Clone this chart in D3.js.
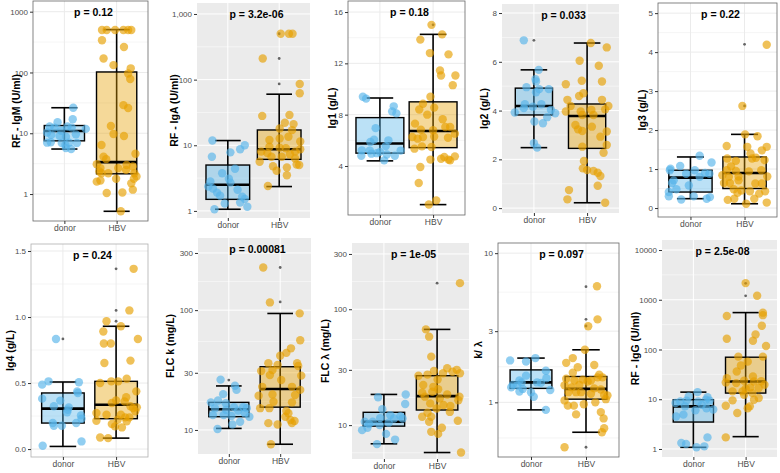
<!DOCTYPE html>
<html>
<head>
<meta charset="utf-8">
<script src="https://cdn.jsdelivr.net/npm/d3@7.9.0/dist/d3.min.js"></script>
<style>
  body { margin: 0; background: #fff; }
  svg { display: block; font-family: "Liberation Sans", Arial, sans-serif; }
</style>
</head>
<body>
<svg id="chart" width="780" height="473"></svg>
<script>
const groups = ["donor", "HBV"];

// each point is [value, horizontal jitter in category units]
// box = [lower whisker, q1, median, q3, upper whisker], per group

// RF - IgM
const igmTicks = [1, 10, 100, 1000];
const igmTickLabels = ["1", "10", "100", "1000"];
const igmDonor = [[26.3,0.17],[17,0.16],[15.2,-0.13],[12.9,-0.28],[12.4,-0.19],[12.9,0.06],[12.4,0.14],[11.8,0.41],[10.3,-0.33],[9.4,-0.25],[9.0,-0.09],[8.8,0.03],[9.6,0.22],[7.1,-0.26],[7.0,-0.33],[6.9,-0.05],[6.4,0.02],[7.0,0.09],[6.9,0.24],[5.7,0.03],[5.5,0.13],[11.0,-0.06]];
const igmHbv = [[500,-0.28],[500,-0.19],[500,-0.03],[500,0.13],[500,0.22],[500,0.28],[340,-0.28],[170,-0.25],[132,-0.06],[263,0.14],[117,0.27],[96,0.22],[78,0.26],[29,0.13],[26,0.22],[13.2,-0.11],[9.7,-0.06],[9.0,0.14],[6.4,-0.29],[4.1,-0.25],[3.75,-0.2],[4.6,0.36],[3.1,-0.38],[2.67,-0.31],[2.35,-0.33],[2.2,-0.29],[2.2,-0.16],[2.67,0.03],[3.0,0.19],[2.5,0.18],[2.85,0.31],[2.2,0.34],[1.95,0.38],[1.78,0.33],[1.5,0.28],[1.6,-0.38],[1.67,-0.31],[1.78,-0.01],[1.04,-0.19],[1.06,0.11],[1.18,0.31],[0.52,0.08]];
const igmBox = [[5.5,7.5,10.9,13.4,26.3],[0.52,2.15,3.35,102,507]];
const igmOut = [[],[]];

// RF - IgA
const igaTicks = [1, 10, 100, 1000];
const igaTickLabels = ["1", "10", "100", "1,000"];
const igaDonor = [[11.8,-0.3],[10,0.33],[8.7,0.24],[7.8,0.05],[6.7,-0.31],[4.4,0.14],[3.75,-0.11],[3.1,0.02],[2.8,-0.34],[2.7,0.05],[2.2,-0.29],[1.9,-0.21],[1.7,-0.15],[1.65,0.28],[1.52,0.33],[1.3,-0.06],[1.34,0.24],[1.16,0.38],[1.06,-0.26],[2.35,-0.38],[2.1,0.19]];
const igaHbv = [[500,0.03],[500,0.19],[500,0.26],[210,-0.32],[86,0.4],[62,0.4],[28,-0.33],[29,0.2],[22,0.11],[21,0.28],[18,0.01],[17,0.25],[13.5,0.18],[12.7,0.01],[12,-0.19],[11.4,0.41],[9.5,-0.19],[9.2,0.01],[9,0.13],[8,-0.35],[7.6,-0.23],[8,0.31],[7.3,0.21],[6.7,-0.15],[8.7,0.41],[5.6,-0.38],[4.8,-0.12],[4.6,0.15],[5.1,0.34],[5,0.39],[4.1,-0.05],[3.5,0.15],[2.4,-0.22],[6.3,0.31],[6.7,0.05]];
const igaBox = [[1.06,1.5,2.5,5.0,11.8],[2.35,6.1,8.7,17.1,60]];
const igaOut = [[],[500,210,86]];

// Ig1
const ig1Ticks = [4, 8, 12, 16];
const ig1TickLabels = ["4", "8", "12", "16"];
const ig1Donor = [[9.4,-0.32],[9.25,-0.26],[8.65,0.26],[8.1,0.31],[8.25,0.23],[6.95,-0.08],[6.05,-0.11],[5.87,-0.18],[6.0,0.16],[5.55,0.11],[5.22,-0.34],[5.2,-0.19],[5.2,0.39],[5.1,0],[4.96,-0.16],[4.9,0.13],[4.8,-0.35],[4.8,0.28],[4.44,0.08],[5.0,-0.06]];
const ig1Hbv = [[15.0,-0.03],[14.26,0.17],[13.85,-0.24],[12.8,-0.06],[12.7,0.29],[11.45,0.13],[11.05,0.15],[11.05,0.42],[10.3,0.37],[9.4,-0.05],[8.85,-0.19],[8.55,0.02],[8.4,-0.26],[8.0,-0.11],[7.3,-0.34],[7.64,0.18],[7.04,0.23],[7.04,0.32],[6.83,-0.23],[6.78,0],[6.26,-0.39],[6.26,-0.19],[6.3,0.02],[6.13,-0.29],[6.52,0.41],[6.2,0.28],[5.48,-0.03],[5.35,-0.35],[5.53,-0.21],[4.57,0.15],[4.5,-0.05],[4.7,0.21],[4.5,0.29],[4.75,0.41],[4.44,0.32],[3.92,-0.24],[2.68,-0.27],[1.32,0.06],[1.0,-0.08]];
const ig1Box = [[4.4,5.0,5.75,7.77,9.3],[0.99,5.43,6.73,9.0,14.26]];
const ig1Out = [[],[15.0]];

// Ig2
const ig2Ticks = [0, 2, 4, 6, 8];
const ig2TickLabels = ["0", "2", "4", "6", "8"];
const ig2Donor = [[6.88,-0.19],[5.67,0.09],[5.29,0.03],[5.19,0.04],[4.96,-0.14],[4.88,0.1],[4.88,0.28],[4.75,0.04],[4.26,-0.17],[4.26,0.14],[4.16,-0.02],[4.1,-0.19],[4.03,0.32],[3.89,0.4],[3.92,-0.36],[3.73,0.25],[3.55,0.01],[3.48,0.17],[2.66,0],[2.48,0.06]];
const ig2Hbv = [[6.77,0.07],[6.59,0.37],[6.04,-0.14],[5.84,0.22],[5.22,-0.1],[5.19,0.28],[5.08,-0.4],[4.71,-0.07],[4.6,-0.15],[4.44,-0.37],[4.44,0.28],[4.19,-0.31],[4.19,0.4],[3.96,-0.4],[3.96,-0.12],[4.03,0.08],[4.05,0.34],[3.82,-0.09],[3.82,0.12],[3.41,-0.22],[3.23,-0.17],[3.16,-0.09],[3.34,0.09],[3.14,0.37],[2.93,0.25],[2.52,-0.09],[2.59,0.37],[2.27,0.31],[1.93,-0.06],[1.63,-0.08],[1.56,0],[1.52,0.12],[1.45,0.2],[1.32,0.25],[0.92,0.2],[0.74,-0.34],[0.36,-0.37],[0.22,0.34]];
const ig2Box = [[2.48,3.82,4.19,4.92,5.67],[0.22,2.45,3.78,4.27,6.77]];
const ig2Out = [[6.88],[]];

// Ig3
const ig3Ticks = [0, 1, 2, 3, 4, 5];
const ig3TickLabels = ["0", "1", "2", "3", "4", "5"];
const ig3Donor = [[1.34,0.17],[1.17,0.39],[1.08,-0.19],[1.01,-0.37],[0.97,-0.38],[0.97,0.08],[0.9,0.27],[0.88,0.35],[0.71,-0.31],[0.64,-0.34],[0.58,-0.03],[0.48,-0.26],[0.41,-0.4],[0.3,-0.4],[0.22,-0.17],[0.3,0.06],[0.24,0.3],[0.28,0.36],[0.8,0.17],[0.88,-0.08]];
const ig3Hbv = [[4.19,0.41],[2.62,-0.04],[1.89,0.01],[1.84,0.24],[1.59,-0.33],[1.57,0.05],[1.57,0.41],[1.4,0.11],[1.48,0.32],[1.27,-0.32],[1.27,0.14],[1.29,0.21],[1.21,-0.16],[1.23,0.37],[1.07,-0.25],[0.97,-0.33],[0.97,0.31],[0.95,-0.16],[0.94,0.08],[0.8,-0.29],[0.81,0.42],[0.71,-0.11],[0.64,-0.38],[0.64,-0.27],[0.63,0.2],[0.63,0.32],[0.48,-0.2],[0.45,-0.06],[0.43,0.1],[0.43,0.38],[0.39,-0.13],[0.37,0.27],[0.21,-0.31],[0.24,-0.19],[0.24,0.18],[0.11,0.03],[0.14,0.41],[0.84,-0.41],[0.81,-0.11]];
const ig3Box = [[0.24,0.41,0.78,0.97,1.31],[0.11,0.5,0.9,1.31,1.89]];
const ig3Out = [[],[4.2,2.62]];

// Ig4
const ig4Ticks = [0, 0.5, 1, 1.5];
const ig4TickLabels = ["0.0", "0.5", "1.0", "1.5"];
const ig4Donor = [[0.834,-0.13],[0.513,-0.27],[0.506,0.3],[0.488,-0.39],[0.437,0.27],[0.425,0.28],[0.382,-0.39],[0.367,-0.05],[0.324,-0.17],[0.316,0.11],[0.298,0.09],[0.278,0.08],[0.255,0.34],[0.23,0.35],[0.197,-0.19],[0.177,-0.17],[0.177,-0.02],[0.197,0.25],[0.058,0.35],[0.025,-0.38]];
const ig4Hbv = [[1.365,0.33],[1.05,0.25],[0.968,-0.18],[0.93,0.09],[0.89,-0.24],[0.8,-0.23],[0.8,-0.1],[0.834,0.41],[0.67,0.27],[0.652,-0.22],[0.513,-0.09],[0.5,-0.3],[0.533,0.2],[0.437,0.38],[0.513,0.04],[0.392,0.19],[0.36,0.16],[0.369,0],[0.349,-0.08],[0.324,0.27],[0.311,0.32],[0.286,0.36],[0.273,-0.37],[0.26,-0.18],[0.26,0.09],[0.24,0.17],[0.215,-0.37],[0.222,0.03],[0.21,0.2],[0.19,-0.08],[0.172,-0.02],[0.164,0.11],[0.088,-0.3],[0.083,-0.15],[0.24,0.25],[0.316,0.39]];
const ig4Box = [[0.02,0.197,0.306,0.425,0.508],[0.083,0.23,0.336,0.513,0.93]];
const ig4Out = [[0.834],[1.365,1.05,0.968]];

// FLC k
const flckTicks = [10, 30, 100, 300];
const flckTickLabels = ["10", "30", "100", "300"];
const flckDonor = [[26.3,-0.16],[23.4,0.12],[21.6,0.15],[19.9,-0.11],[17.6,-0.21],[17.0,-0.35],[16.7,-0.06],[15.2,-0.27],[15.5,0.1],[15.5,0.28],[15.2,0.35],[14.7,-0.05],[14.5,0.18],[13.3,-0.31],[13.3,-0.1],[13.1,0.05],[13.8,0.31],[12.9,0.4],[11.7,0.22],[11.1,0.07],[10.2,-0.22]];
const flckHbv = [[227,-0.33],[116,-0.2],[94,0.38],[56,0.39],[48,0.21],[44,0.12],[41.6,0],[36,-0.23],[34.8,-0.05],[36,0.33],[34.2,0.35],[31,-0.37],[31.6,-0.15],[28.7,-0.2],[28.4,0.41],[26.1,0.02],[22.9,-0.35],[22.9,0.23],[21.6,0.39],[19.3,-0.42],[19.8,-0.15],[19.6,0.29],[17.2,-0.13],[17.0,0.23],[15.2,-0.39],[15.2,-0.21],[14.4,0.12],[13.8,0.16],[12.9,0.1],[12.1,0.2],[11.9,0.28],[11.4,0.23],[11.4,-0.23],[11.1,-0.05],[7.6,-0.18]];
const flckBox = [[10.3,12.9,14.9,17.0,23.3],[7.6,15.5,22.0,33.7,93.8]];
const flckOut = [[26.1],[227,117]];

// FLC λ
const flclTicks = [10, 30, 100, 300];
const flclTickLabels = ["10", "30", "100", "300"];
const flclDonor = [[18.4,0.41],[17.4,-0.11],[15.2,0.4],[13.7,-0.03],[11.96,0.31],[12.2,0.12],[11.4,0.19],[11.5,-0.07],[10.7,-0.36],[10.2,-0.28],[10.7,-0.21],[10.0,-0.08],[9.5,-0.31],[9.05,-0.41],[8.4,0.04],[7.5,0.21],[6.85,-0.13],[11.4,0.35],[10.5,0.09]];
const flclHbv = [[168,0.43],[67,-0.21],[58,-0.15],[39,-0.11],[29.3,-0.06],[31,0.19],[30,0.37],[26.7,-0.35],[27.3,-0.18],[28,0.11],[28.9,0.29],[28,0.43],[24.8,0.01],[22.2,-0.26],[21.4,-0.07],[20.4,0.02],[19,-0.28],[19.4,-0.09],[18.4,0.19],[17.6,0.42],[16.4,0.4],[17.6,-0.23],[17,0.05],[15.4,-0.13],[14.9,0.12],[14.6,0.25],[13.9,-0.01],[13.0,0.24],[12.8,-0.18],[11.8,-0.28],[11.8,-0.11],[10.7,-0.15],[10.9,0.39],[9.5,0.09],[8.75,-0.11],[8.4,0.02],[5.8,0.45]];
const flclBox = [[6.9,9.8,10.7,12.9,18.4],[5.8,13.5,17.8,26.7,67]];
const flclOut = [[],[168]];

// k / λ
const ratioTicks = [1, 3, 10];
const ratioTickLabels = ["1", "3", "10"];
const ratioDonor = [[1.98,0.08],[1.91,-0.38],[1.88,-0.09],[1.63,0.27],[1.51,-0.09],[1.45,0.28],[1.40,-0.21],[1.36,-0.17],[1.36,0.11],[1.35,0.18],[1.31,-0.33],[1.30,-0.25],[1.26,-0.36],[1.23,-0.15],[1.21,0.35],[1.18,-0.21],[1.17,0],[1.09,0.05],[0.89,0.27]];
const ratioHbv = [[6.0,0.2],[3.6,0.21],[3.24,0.04],[2.25,-0.02],[1.98,-0.24],[1.84,-0.36],[1.78,0.15],[1.72,-0.15],[1.58,-0.24],[1.53,0.24],[1.47,0.21],[1.47,0.3],[1.44,-0.36],[1.40,-0.21],[1.42,-0.06],[1.40,0.09],[1.31,-0.12],[1.38,0.03],[1.30,-0.39],[1.26,-0.26],[1.24,0.15],[1.22,0.27],[1.17,-0.32],[1.17,-0.18],[1.17,-0.09],[1.14,0.09],[1.12,0.33],[1.11,0.39],[1.05,0.36],[1.03,-0.39],[1.0,0.17],[0.97,-0.04],[0.95,-0.33],[0.95,-0.22],[0.86,0.27],[0.83,-0.18],[0.78,0.32],[0.67,0.33],[0.63,0.29],[0.5,-0.39]];
const ratioBox = [[0.89,1.24,1.36,1.65,1.98],[0.63,1.05,1.23,1.49,2.25]];
const ratioOut = [[],[5.96,3.6,3.25,0.5]];

// RF - IgG
const iggTicks = [1, 10, 100, 1000, 10000];
const iggTickLabels = ["1", "10", "100", "1000", "10000"];
const iggDonor = [[13.9,0.08],[11.4,-0.09],[11.0,0.27],[9.8,0.24],[9.4,0.31],[9.0,-0.25],[9.4,-0.13],[9.0,0.09],[8.4,-0.34],[7.7,0.16],[7.2,-0.16],[6.6,0.25],[6.2,0.38],[6.0,0.04],[4.9,-0.19],[4.5,-0.33],[1.71,0.27],[1.32,-0.23],[1.26,-0.14],[1.08,0.06],[1.13,0.21]];
const iggHbv = [[2160,0],[1200,0.22],[550,0.33],[490,0.33],[470,-0.36],[300,0.31],[200,0.19],[150,0.14],[165,-0.36],[118,0.39],[72,0.33],[72,-0.14],[47.7,-0.09],[57,0.04],[36.2,-0.17],[26.5,-0.36],[28.6,0.14],[22.8,0.16],[23.5,-0.03],[23,0.3],[21.8,-0.38],[21.1,-0.18],[19.6,0.36],[17.3,0.09],[16.2,0],[16.8,0.25],[14.4,-0.25],[14.4,-0.06],[13.3,0.13],[12.3,-0.03],[10.6,0.25],[9.8,0.16],[9.5,-0.25],[7.4,-0.38],[7.2,0.08],[6.6,0.04],[5.3,-0.16],[1.71,-0.38]];
const iggBox = [[1.08,3.48,7.2,9.8,13.9],[1.77,13.3,22.8,70,552]];
const iggOut = [[],[2140,1200]];

// panel layout: rect = [left, top, right, bottom] of the plot area
const panels = [
  { title: "RF - IgM (U/ml)", p: "p = 0.12", log: true, domain: [0.36, 1500], ticks: igmTicks, tickLabels: igmTickLabels,
    points: [igmDonor, igmHbv], box: igmBox, out: igmOut, rect: [33, 1, 148, 221], titleX: 16, theme: "bw", boxW: 0.77 },
  { title: "RF - IgA (U/ml)", p: "p = 3.2e-06", log: true, domain: [0.78, 1470], ticks: igaTicks, tickLabels: igaTickLabels,
    points: [igaDonor, igaHbv], box: igaBox, out: igaOut, rect: [197, 3, 310, 218], titleX: 174, theme: "gray", boxW: 0.85 },
  { title: "Ig1 (g/L)", p: "p = 0.18", log: false, domain: [0.18, 16.86], ticks: ig1Ticks, tickLabels: ig1TickLabels,
    points: [ig1Donor, ig1Hbv], box: ig1Box, out: ig1Out, rect: [348, 1, 465, 215], titleX: 332, theme: "bw", boxW: 0.9 },
  { title: "Ig2 (g/L)", p: "p = 0.033", log: false, domain: [-0.2, 8.37], ticks: ig2Ticks, tickLabels: ig2TickLabels,
    points: [ig2Donor, ig2Hbv], box: ig2Box, out: ig2Out, rect: [502, 4, 619, 213], titleX: 484, theme: "gray", boxW: 0.7 },
  { title: "Ig3 (g/L)", p: "p = 0.22", log: false, domain: [-0.23, 5.26], ticks: ig3Ticks, tickLabels: ig3TickLabels,
    points: [ig3Donor, ig3Hbv], box: ig3Box, out: ig3Out, rect: [658, 3, 777, 217], titleX: 642, theme: "bw", boxW: 0.8 },
  { title: "Ig4 (g/L)", p: "p = 0.24", log: false, domain: [-0.06, 1.553], ticks: ig4Ticks, tickLabels: ig4TickLabels,
    points: [ig4Donor, ig4Hbv], box: ig4Box, out: ig4Out, rect: [31, 244, 148, 457], titleX: 10, theme: "bwLight", boxW: 0.8 },
  { title: "FLC k (mg/L)", p: "p = 0.00081", log: true, domain: [6.3, 400], ticks: flckTicks, tickLabels: flckTickLabels,
    points: [flckDonor, flckHbv], box: flckBox, out: flckOut, rect: [198, 238, 311, 454], titleX: 170, theme: "gray", boxW: 0.78 },
  { title: "FLC λ (mg/L)", p: "p = 1e-05", log: true, domain: [5.1, 373], ticks: flclTicks, tickLabels: flclTickLabels,
    points: [flclDonor, flclHbv], box: flclBox, out: flclOut, rect: [352, 243, 469, 459], titleX: 325, theme: "gray", boxW: 0.78 },
  { title: "k/ λ", p: "p = 0.097", log: true, domain: [0.43, 11.7], ticks: ratioTicks, tickLabels: ratioTickLabels,
    points: [ratioDonor, ratioHbv], box: ratioBox, out: ratioOut, rect: [498, 243, 619, 457], titleX: 478, theme: "bw", boxW: 0.76 },
  { title: "RF - IgG (U/ml)", p: "p = 2.5e-08", log: true, domain: [0.69, 15900], ticks: iggTicks, tickLabels: iggTickLabels,
    points: [iggDonor, iggHbv], box: iggBox, out: iggOut, rect: [662, 240, 777, 457], titleX: 635, theme: "gray", boxW: 0.77 }
];

const pointColors = ["#56B4E9", "#E69F00"];

// minor breaks halfway between major breaks (in transformed space), like ggplot
function minorBreaks(P) {
  const t = P.log ? P.ticks.map(Math.log10) : P.ticks.slice();
  const m = [];
  for (let i = 0; i < t.length - 1; i++) m.push((t[i] + t[i + 1]) / 2);
  m.push(t[0] - (t[1] - t[0]) / 2);
  m.push(t[t.length - 1] + (t[t.length - 1] - t[t.length - 2]) / 2);
  const vals = P.log ? m.map(v => Math.pow(10, v)) : m;
  return vals.filter(v => v > P.domain[0] && v < P.domain[1]);
}

function drawPanel(svg, P) {
  const [x0, y0, x1, y1] = P.rect;
  const w = x1 - x0, h = y1 - y0;
  const g = svg.append("g");

  const x = d3.scaleLinear().domain([0.4, 2.6]).range([x0, x1]);
  const y = (P.log ? d3.scaleLog() : d3.scaleLinear()).domain(P.domain).range([y1, y0]);

  const isGray = P.theme === "gray";
  const gridColor = isGray ? "#ffffff" : "#ebebeb";

  // panel background
  g.append("rect")
    .attr("x", x0).attr("y", y0).attr("width", w).attr("height", h)
    .attr("fill", isGray ? "#ebebeb" : "#ffffff");

  // gridlines
  const grid = g.append("g");
  grid.selectAll(".minor")
    .data(minorBreaks(P))
    .enter().append("line")
    .attr("x1", x0).attr("x2", x1)
    .attr("y1", d => y(d)).attr("y2", d => y(d))
    .attr("stroke", gridColor).attr("stroke-width", 0.5);
  grid.selectAll(".major")
    .data(P.ticks)
    .enter().append("line")
    .attr("x1", x0).attr("x2", x1)
    .attr("y1", d => y(d)).attr("y2", d => y(d))
    .attr("stroke", gridColor).attr("stroke-width", 1);
  grid.selectAll(".vmajor")
    .data([1, 2])
    .enter().append("line")
    .attr("x1", d => x(d)).attr("x2", d => x(d))
    .attr("y1", y0).attr("y2", y1)
    .attr("stroke", gridColor).attr("stroke-width", 1);

  // whisker line through the box
  const boxes = g.append("g");
  P.box.forEach((b, i) => {
    const cx = x(i + 1);
    boxes.append("line")
      .attr("x1", cx).attr("x2", cx)
      .attr("y1", y(b[0])).attr("y2", y(b[4]))
      .attr("stroke", "#000").attr("stroke-width", 1.6);
    [b[0], b[4]].forEach(v => {
      boxes.append("line")
        .attr("x1", x(i + 1 - 0.25)).attr("x2", x(i + 1 + 0.25))
        .attr("y1", y(v)).attr("y2", y(v))
        .attr("stroke", "#000").attr("stroke-width", 1.6);
    });
    boxes.append("rect")
      .attr("x", x(i + 1 - P.boxW / 2))
      .attr("width", x(i + 1 + P.boxW / 2) - x(i + 1 - P.boxW / 2))
      .attr("y", y(b[3]))
      .attr("height", y(b[1]) - y(b[3]))
      .attr("fill", pointColors[i]).attr("fill-opacity", 0.4)
      .attr("stroke", "#000").attr("stroke-width", 1.4);
    boxes.append("line")
      .attr("x1", x(i + 1 - P.boxW / 2)).attr("x2", x(i + 1 + P.boxW / 2))
      .attr("y1", y(b[2])).attr("y2", y(b[2]))
      .attr("stroke", "#000").attr("stroke-width", 2.6);
  });

  // outliers from the boxplot
  P.out.forEach((vals, i) => {
    boxes.selectAll(null)
      .data(vals)
      .enter().append("circle")
      .attr("cx", x(i + 1)).attr("cy", d => y(d))
      .attr("r", 1.4).attr("fill", "#666");
  });

  // jittered points
  P.points.forEach((pts, i) => {
    g.append("g").selectAll("circle")
      .data(pts)
      .enter().append("circle")
      .attr("cx", d => x(i + 1 + d[1]))
      .attr("cy", d => y(d[0]))
      .attr("r", 4.2)
      .attr("fill", pointColors[i])
      .attr("fill-opacity", 0.65);
  });

  // panel border
  if (!isGray) {
    g.append("rect")
      .attr("x", x0).attr("y", y0).attr("width", w).attr("height", h)
      .attr("fill", "none")
      .attr("stroke", P.theme === "bwLight" ? "#b0b0b0" : "#666")
      .attr("stroke-width", 0.8);
  }

  // axes
  const yAxis = d3.axisLeft(y).tickValues(P.ticks)
    .tickFormat((d, i) => P.tickLabels[i]).tickSize(3).tickPadding(2);
  const ya = g.append("g").attr("transform", `translate(${x0},0)`).call(yAxis);
  ya.select(".domain").remove();
  ya.selectAll("line").attr("stroke", "#333");
  ya.selectAll("text").attr("fill", "#4d4d4d").style("font-size", "8px").style("font-family", "Liberation Sans, Arial, sans-serif");

  const xAxis = d3.axisBottom(x).tickValues([1, 2])
    .tickFormat((d, i) => groups[i]).tickSize(3).tickPadding(1);
  const xa = g.append("g").attr("transform", `translate(0,${y1})`).call(xAxis);
  xa.select(".domain").remove();
  xa.selectAll("line").attr("stroke", "#333");
  xa.selectAll("text").attr("fill", "#4d4d4d").style("font-size", "8.5px").style("font-family", "Liberation Sans, Arial, sans-serif");

  // p-value label
  g.append("text")
    .attr("x", (x0 + x1) / 2 + 3).attr("y", y0 + 15)
    .attr("text-anchor", "middle")
    .attr("font-size", "10.5px").attr("font-weight", "bold")
    .text(P.p);

  // y axis title
  g.append("text")
    .attr("transform", `translate(${P.titleX},${(y0 + y1) / 2}) rotate(-90)`)
    .attr("text-anchor", "middle")
    .attr("dy", "0.35em")
    .attr("font-size", "10.5px").attr("font-weight", "bold")
    .text(P.title);
}

const svg = d3.select("#chart");
panels.forEach(P => drawPanel(svg, P));
</script>
</body>
</html>
